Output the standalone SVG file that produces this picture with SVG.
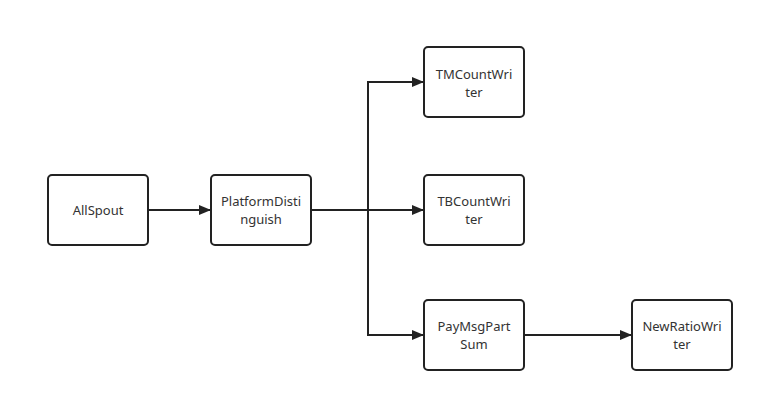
<svg xmlns="http://www.w3.org/2000/svg" width="764" height="403" viewBox="0 0 764 403">
<defs>
<style>
.box{fill:#fff;stroke:#222;stroke-width:2}
.t{font-family:"Noto Sans","Liberation Sans",sans-serif;font-size:13px;fill:#333;text-anchor:middle}
.c{fill:none;stroke:#222;stroke-width:2}
</style>
<marker id="ah" markerWidth="12" markerHeight="10" refX="11" refY="5" orient="auto" markerUnits="userSpaceOnUse">
<path d="M0,0 L12,5 L0,10 Z" fill="#222"/>
</marker>
</defs>
<rect width="764" height="403" fill="#fff"/>
<g id="connectors">
<path class="c" d="M148,210 H210" marker-end="url(#ah)"/>
<path class="c" d="M311,210 H423" marker-end="url(#ah)"/>
<path class="c" d="M368,210 V82 H423" marker-end="url(#ah)"/>
<path class="c" d="M368,210 V335 H423" marker-end="url(#ah)"/>
<path class="c" d="M524,335 H631" marker-end="url(#ah)"/>
</g>
<g id="AllSpout"><rect class="box" x="48" y="175" width="100" height="70" rx="4"/><text class="t" x="98" y="215">AllSpout</text></g>
<g id="PlatformDistinguish"><rect class="box" x="211" y="175" width="100" height="70" rx="4"/><text class="t" x="261" y="206">PlatformDisti</text><text class="t" x="261" y="224">nguish</text></g>
<g id="TMCountWriter"><rect class="box" x="424" y="47" width="100" height="70" rx="4"/><text class="t" x="474" y="79">TMCountWri</text><text class="t" x="474" y="97">ter</text></g>
<g id="TBCountWriter"><rect class="box" x="424" y="175" width="100" height="70" rx="4"/><text class="t" x="474" y="206">TBCountWri</text><text class="t" x="474" y="224">ter</text></g>
<g id="PayMsgPartSum"><rect class="box" x="424" y="300" width="100" height="70" rx="4"/><text class="t" x="474" y="331">PayMsgPart</text><text class="t" x="474" y="349">Sum</text></g>
<g id="NewRatioWriter"><rect class="box" x="632" y="300" width="100" height="70" rx="4"/><text class="t" x="682" y="331">NewRatioWri</text><text class="t" x="682" y="349">ter</text></g>
</svg>
